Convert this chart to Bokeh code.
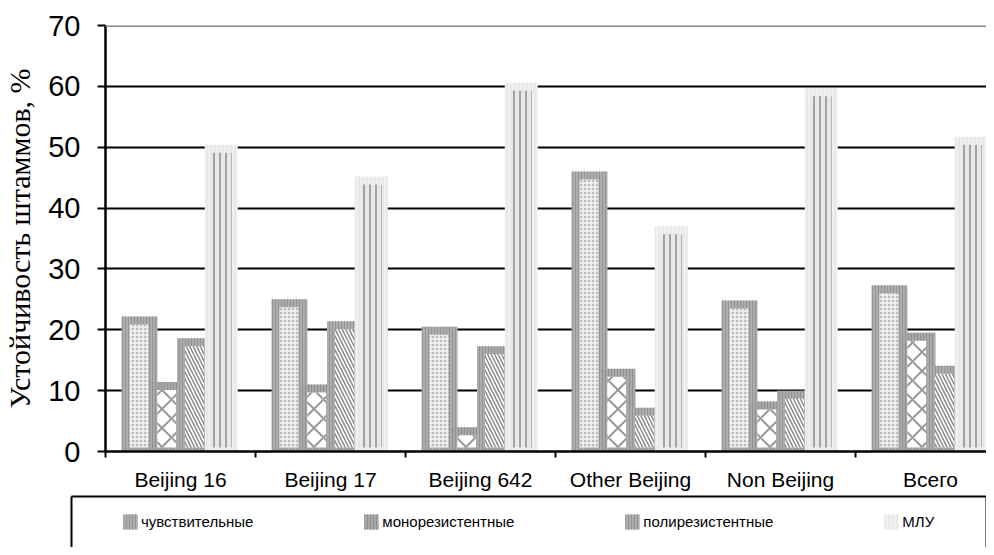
import numpy as np
from bokeh.plotting import figure
from bokeh.layouts import column
from bokeh.models import (Range1d, FixedTicker, Legend, LegendItem, LinearAxis,
                          ColumnDataSource, Span)
from bokeh.embed import file_html
from bokeh.resources import INLINE

categories = ["Beijing 16", "Beijing 17", "Beijing 642", "Other Beijing", "Non Beijing", "Всего"]
series_names = ["чувствительные", "монорезистентные", "полирезистентные", "МЛУ"]
sensitive = [22.2, 25.0, 20.5, 46.0, 24.8, 27.3]
mono = [11.4, 11.0, 4.0, 13.6, 8.2, 19.5]
poly = [18.6, 21.4, 17.3, 7.2, 10.0, 14.1]
mdr = [50.4, 45.2, 60.6, 37.0, 59.7, 51.7]
y_ticks = [0, 10, 20, 30, 40, 50, 60, 70]

series_values = [sensitive, mono, poly, mdr]

FRAME_LEFT = 105
FIG_W = 986
p = figure(width=FIG_W, height=495, output_backend="svg", toolbar_location=None,
           x_range=Range1d(0, (FIG_W - FRAME_LEFT) / 150.0), y_range=Range1d(0, 70),
           min_border_left=FRAME_LEFT, min_border_right=0, min_border_top=25,
           min_border_bottom=44)
p.background_fill_color = "white"
p.border_fill_color = "white"
p.outline_line_color = None
p.add_layout(Span(location=70, dimension="width", line_color="#8a8a8a", line_width=3))

# grid
p.xgrid.visible = False
p.ygrid.ticker = FixedTicker(ticks=[10, 20, 30, 40, 50, 60])
p.ygrid.grid_line_color = "black"
p.ygrid.grid_line_width = 2

# y axis
ya = p.yaxis[0]
ya.ticker = FixedTicker(ticks=y_ticks)
ya.major_label_text_font = "Liberation Sans"
ya.major_label_text_font_size = "29px"
ya.major_label_text_color = "black"
ya.major_tick_out = 8
ya.major_tick_in = 0
ya.major_tick_line_width = 2
ya.minor_tick_line_color = None
ya.axis_line_width = 2.5
ya.major_label_standoff = 17
ya.axis_label = "Устойчивость штаммов, %"
ya.axis_label_text_font = "Liberation Serif"
ya.axis_label_text_font_size = "30px"
ya.axis_label_text_font_style = "normal"
ya.axis_label_text_color = "black"
ya.axis_label_standoff = 9

# x axis
xa = p.xaxis[0]
xa.ticker = FixedTicker(ticks=[i + 0.5 for i in range(len(categories))],
                        minor_ticks=list(range(len(categories) + 1)))
xa.major_label_overrides = {i + 0.5: c for i, c in enumerate(categories)}
xa.major_tick_line_color = None
xa.major_tick_out = 0
xa.major_tick_in = 0
xa.minor_tick_out = 6
xa.minor_tick_in = 0
xa.minor_tick_line_color = "black"
xa.minor_tick_line_width = 2
xa.axis_line_width = 2.5
xa.major_label_text_font = "Liberation Sans"
xa.major_label_text_font_size = "21px"
xa.major_label_text_color = "black"
xa.major_label_standoff = 10

# bar geometry (category width = 1)
px = 1 / 150.0
py = 70 / 426.0
bar_left = [16 * px, 43.75 * px, 71.5 * px, 99.25 * px]
outer_w = [36 * px, 36 * px, 36 * px, 33 * px]
inner_off = [8 * px, 8 * px, 8 * px, 6 * px]
inner_w = [19 * px, 19 * px, 19 * px, 21 * px]
top_band = 8 * py
bottom_band = 4 * py

outer_styles = [
    dict(fill_color="#adadad", hatch_pattern="vertical_line", hatch_color="#959595", hatch_scale=3, hatch_weight=1),
    dict(fill_color="#a8a8a8", hatch_pattern="vertical_line", hatch_color="#909090", hatch_scale=3, hatch_weight=1),
    dict(fill_color="#acacac", hatch_pattern="vertical_line", hatch_color="#949494", hatch_scale=3, hatch_weight=1),
    dict(fill_color="#f0f0f0", hatch_pattern="vertical_line", hatch_color="#e0e0e0", hatch_scale=4, hatch_weight=1),
]
inner_styles = [
    dict(fill_color="#bdbdbd", hatch_pattern="cross", hatch_color="#f4f4f4", hatch_scale=4, hatch_weight=1.5),
    dict(fill_color="#ffffff", hatch_pattern="diagonal_cross", hatch_color="#9a9a9a", hatch_scale=19, hatch_weight=2),
    dict(fill_color="#ffffff", hatch_pattern="left_diagonal_line", hatch_color="#8a8a8a", hatch_scale=7, hatch_weight=1.5),
    dict(fill_color="#e8e8e8", hatch_pattern="vertical_line", hatch_color="#a3a3a3", hatch_scale=6, hatch_weight=2),
]

base = np.arange(len(categories))
outer_sources = []
for j, vals in enumerate(series_values):
    v = np.array(vals, dtype=float)
    src_o = ColumnDataSource(dict(x=base + bar_left[j] + outer_w[j] / 2, top=v))
    outer_sources.append(src_o)
    p.vbar(x="x", top="top", bottom=0, width=outer_w[j], source=src_o,
           line_color=None, **outer_styles[j])
    src_i = ColumnDataSource(dict(x=base + bar_left[j] + inner_off[j] + inner_w[j] / 2,
                                  top=v - top_band))
    p.vbar(x="x", top="top", bottom=bottom_band, width=inner_w[j], source=src_i,
           line_color=None, **inner_styles[j])

# legend panel (box open at the bottom, like the cropped original)
L = figure(width=FIG_W, height=52, output_backend="svg", toolbar_location=None,
           x_range=Range1d(0, 1), y_range=Range1d(500, 501),
           min_border_left=71, min_border_right=0, min_border_top=1, min_border_bottom=0,
           x_axis_location=None, y_axis_location=None)
L.frame_align = False
L.outline_line_color = None
L.xgrid.visible = False
L.ygrid.visible = False
for side in ("left", "right", "above"):
    ax = LinearAxis(ticker=FixedTicker(ticks=[]), major_label_text_font_size="0px",
                    major_tick_line_color=None, minor_tick_line_color=None,
                    major_tick_out=0, major_tick_in=0, major_label_standoff=0,
                    axis_label_standoff=0,
                    axis_line_color="black", axis_line_width=2)
    L.add_layout(ax, side)

legend_items = []
for j in range(4):
    r = L.vbar(x="x", top="top", bottom=0, width=0.1, source=outer_sources[j],
               line_color=None, **outer_styles[j])
    legend_items.append(LegendItem(label=series_names[j], renderers=[r]))

legend = Legend(items=legend_items, orientation="horizontal", location=(50, 16))
legend.border_line_color = None
legend.background_fill_alpha = 0
legend.label_text_font = "Liberation Sans"
legend.label_text_font_size = "15px"
legend.label_text_color = "black"
legend.glyph_width = 18
legend.glyph_height = 19
legend.label_height = 19
legend.label_standoff = 2
legend.spacing = 109
legend.padding = 0
legend.margin = 0
L.add_layout(legend, "center")

layout = column(p, L, spacing=0)
open("out.html", "w").write(file_html(layout, INLINE))
